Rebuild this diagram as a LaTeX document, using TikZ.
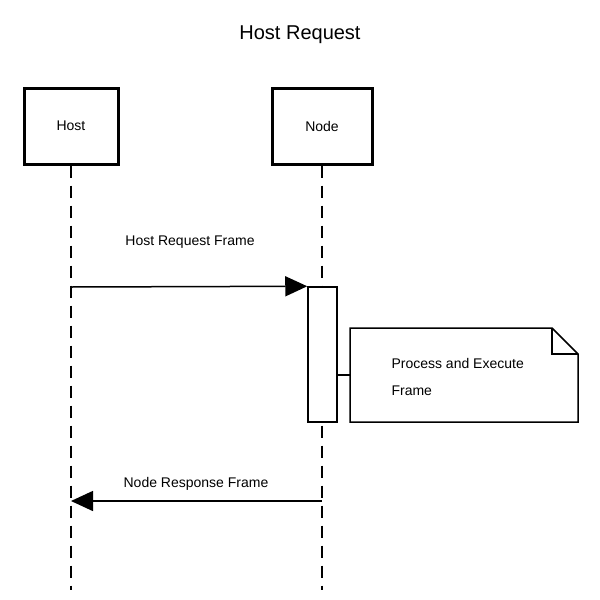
\documentclass[tikz,border=0pt]{standalone}
\usepackage{fontspec}
\setmainfont{Liberation Sans}
\usetikzlibrary{arrows.meta}
\begin{document}
\begin{tikzpicture}[x=1pt,y=-1pt,
  actor/.style={draw,line width=3pt,minimum width=94pt,minimum height=76pt,font=\fontsize{14}{16}\selectfont},
  life/.style={line width=1.5pt,dash pattern=on 12pt off 8pt},
  msg/.style={line width=1.5pt,-{Triangle[length=22pt,width=20pt]}},
  lbl/.style={font=\fontsize{14}{16}\selectfont}]
\useasboundingbox (0,0) rectangle (600,600);
\node[font=\fontsize{20}{24}\selectfont] (title) at (300,35) {Host Request};
\node[actor] (host) at (71,126) {Host};
\node[actor,minimum width=100pt] (node) at (322,126) {Node};
\coordinate (hend) at (71,590);
\coordinate (nend) at (322,590);
\draw[life] (host.south) -- (hend);
\draw[life] (node.south) -- (nend);
\node[draw,fill=white,line width=1.5pt,minimum width=29pt,minimum height=135pt,inner sep=0pt] (act) at (322.5,354.5) {};
\coordinate (h1) at (71,287);
\draw[msg] (h1) -- (act.north west);
\node[lbl] (l1) at (190,242) {Host Request Frame};
\coordinate (nstart) at (350,375);
\draw[line width=1.5pt] (act.east |- nstart) -- (nstart);
\draw[line width=1.5pt] (350,328) -- (552,328) -- (578,354) -- (578,422) -- (350,422) -- cycle;
\draw[line width=1.5pt] (552,328) -- (552,354) -- (578,354);
\node[lbl,anchor=west] (n1) at (388,363) {Process and Execute};
\node[lbl,anchor=west] (n2) at (388,391) {Frame};
\coordinate (r1) at (322,501);
\coordinate (r2) at (71,501);
\draw[msg] (r1) -- (r2);
\node[lbl] (l2) at (196,484) {Node Response Frame};
\end{tikzpicture}
\end{document}
